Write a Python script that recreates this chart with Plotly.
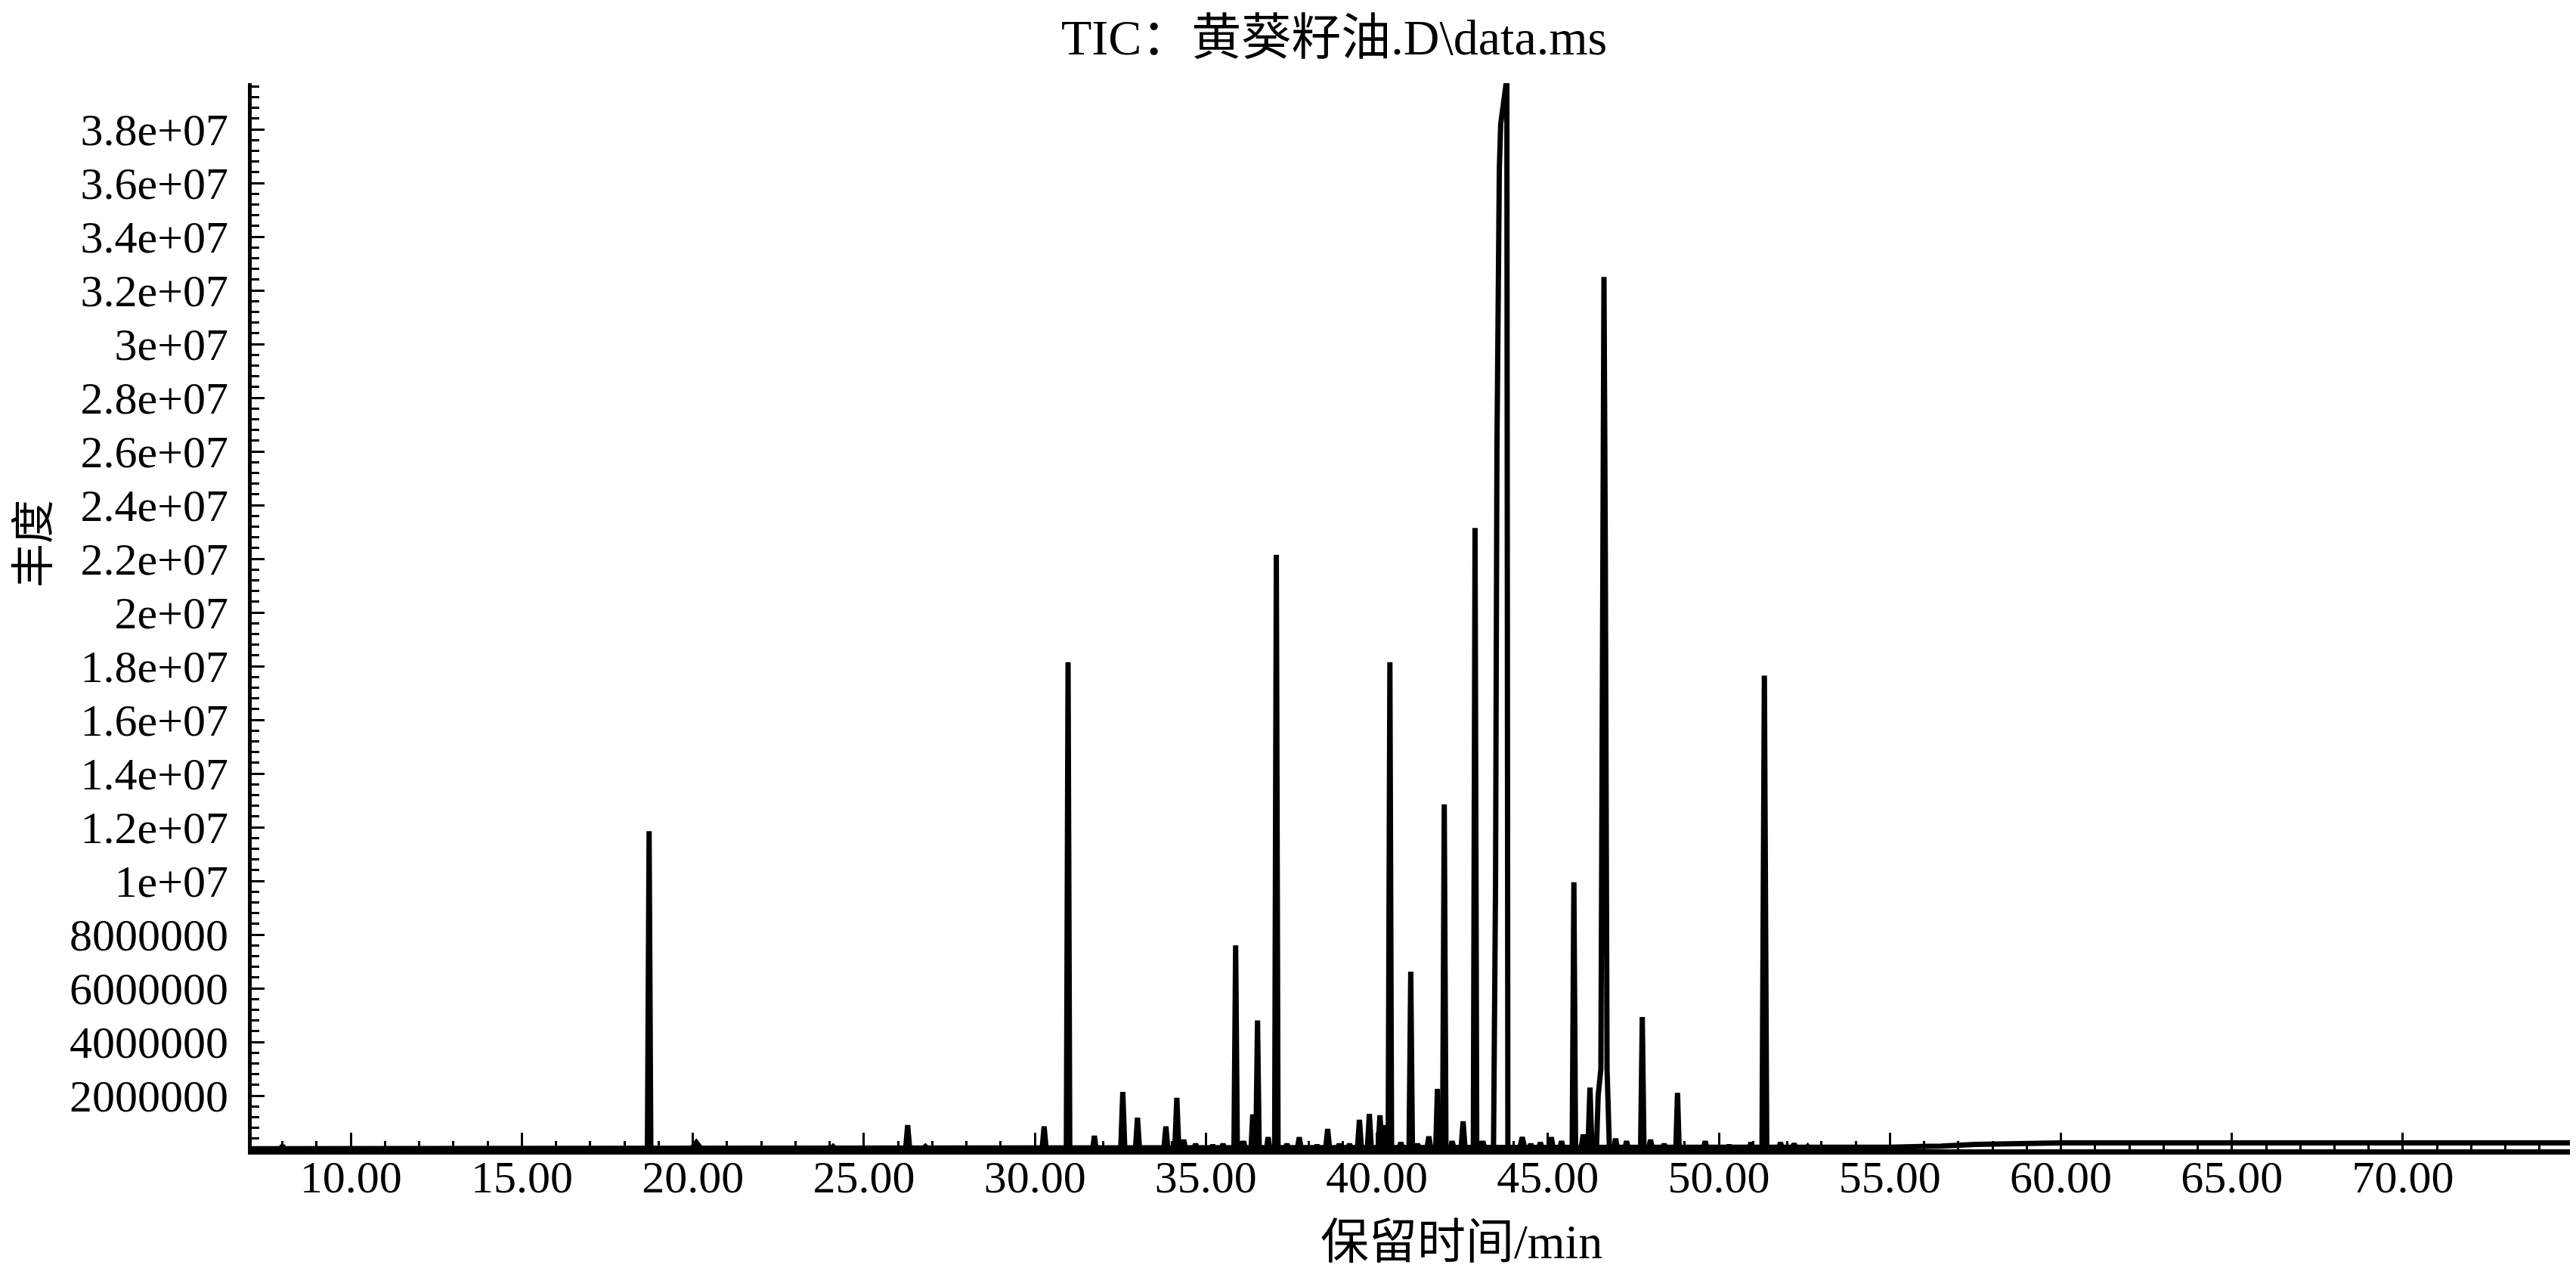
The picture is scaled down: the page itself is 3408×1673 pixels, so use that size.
import plotly.graph_objects as go

# ---------------- data ----------------
# isolated peaks: retention time (min), apex abundance, half base width (min)
peak_rt = [8.00, 18.72, 20.10, 24.10, 26.28, 26.80, 30.27, 30.97, 31.74, 32.57,
           33.00, 33.83, 34.15, 34.35, 34.70, 35.20, 35.50, 35.87, 36.10, 36.37,
           36.51, 36.82, 37.06, 37.37, 37.73, 38.25, 38.56, 38.90, 39.20, 39.49,
           39.78, 40.09, 40.23, 40.38, 40.70, 40.99, 41.19, 41.52, 41.77, 41.97,
           42.20, 42.52, 42.87, 43.10, 44.25, 44.50, 44.78, 45.10, 45.40, 45.76,
           46.03, 46.23, 46.98, 47.30, 47.76, 48.00, 48.40, 48.79, 49.60, 50.30,
           50.94, 51.33, 51.80, 52.20, 52.60]
peak_abund = [0.15e6, 11.85e6, 0.25e6, 0.10e6, 0.90e6, 0.10e6, 0.85e6, 18.15e6, 0.50e6, 2.14e6,
              1.18e6, 0.85e6, 1.92e6, 0.35e6, 0.20e6, 0.15e6, 0.20e6, 7.60e6, 0.30e6, 1.30e6,
              4.80e6, 0.45e6, 22.15e6, 0.20e6, 0.45e6, 0.15e6, 0.76e6, 0.20e6, 0.20e6, 1.10e6,
              1.32e6, 1.27e6, 0.90e6, 18.15e6, 0.25e6, 6.62e6, 0.20e6, 0.48e6, 2.25e6, 12.85e6,
              0.30e6, 1.04e6, 23.15e6, 0.30e6, 0.45e6, 0.20e6, 0.25e6, 0.45e6, 0.30e6, 9.95e6,
              0.55e6, 2.30e6, 0.40e6, 0.30e6, 4.93e6, 0.35e6, 0.20e6, 2.10e6, 0.30e6, 0.15e6,
              0.25e6, 17.65e6, 0.25e6, 0.20e6, 0.10e6]
peak_halfwidth = [0.04, 0.05, 0.15, 0.08, 0.06, 0.08, 0.06, 0.05, 0.05, 0.06,
                  0.06, 0.06, 0.06, 0.06, 0.06, 0.06, 0.06, 0.05, 0.06, 0.05,
                  0.05, 0.05, 0.05, 0.06, 0.06, 0.06, 0.06, 0.06, 0.06, 0.06,
                  0.06, 0.06, 0.05, 0.05, 0.06, 0.05, 0.05, 0.06, 0.05, 0.05,
                  0.06, 0.06, 0.05, 0.06, 0.08, 0.06, 0.06, 0.06, 0.06, 0.05,
                  0.06, 0.06, 0.06, 0.06, 0.05, 0.06, 0.06, 0.05, 0.06, 0.06,
                  0.06, 0.07, 0.06, 0.08, 0.06]

# overloaded main peak (fronting profile)
main_peak_rt = [43.41, 43.47, 43.51, 43.53, 43.58, 43.62, 43.72, 43.80, 43.83]
main_peak_abund = [0, 10.0e6, 26.0e6, 32.0e6, 36.5e6, 38.2e6, 39.4e6, 39.9e6, 0]

# second largest peak with shoulder
peak2_rt = [46.42, 46.47, 46.55, 46.60, 46.64, 46.68, 46.73, 46.80]
peak2_abund = [0, 2.0e6, 3.0e6, 22.0e6, 32.5e6, 22.0e6, 3.0e6, 0]

# baseline drift
base_rt = [7.10, 52.80, 55.00, 56.50, 57.50, 60.00, 75.20]
base_abund = [0.02e6, 0.05e6, 0.08e6, 0.12e6, 0.18e6, 0.24e6, 0.24e6]

# axis ticks
y_tickvals = [2e6, 4e6, 6e6, 8e6, 1e7, 1.2e7, 1.4e7, 1.6e7, 1.8e7, 2e7,
              2.2e7, 2.4e7, 2.6e7, 2.8e7, 3e7, 3.2e7, 3.4e7, 3.6e7, 3.8e7]
y_ticktext = ["2000000", "4000000", "6000000", "8000000", "1e+07", "1.2e+07",
              "1.4e+07", "1.6e+07", "1.8e+07", "2e+07", "2.2e+07", "2.4e+07",
              "2.6e+07", "2.8e+07", "3e+07", "3.2e+07", "3.4e+07", "3.6e+07", "3.8e+07"]
x_tickvals = [10, 15, 20, 25, 30, 35, 40, 45, 50, 55, 60, 65, 70]
x_ticktext = ["10.00", "15.00", "20.00", "25.00", "30.00", "35.00", "40.00",
              "45.00", "50.00", "55.00", "60.00", "65.00", "70.00"]

title_text = "TIC：黄葵籽油.D\\data.ms"
x_title = "保留时间/min"
y_title = "丰度"

# ---------------- build traces ----------------
px, py = [], []
for rt, h, hw in zip(peak_rt, peak_abund, peak_halfwidth):
    px += [rt - hw, rt, rt + hw, None]
    py += [0, h, 0, None]
px += main_peak_rt + [None] + peak2_rt
py += main_peak_abund + [None] + peak2_abund

LINE = dict(color="black", width=7)
fig = go.Figure()
fig.add_trace(go.Scatter(x=base_rt, y=base_abund, mode="lines", line=LINE,
                         hoverinfo="skip", showlegend=False))
fig.add_trace(go.Scatter(x=px, y=py, mode="lines", line=LINE,
                         connectgaps=False, showlegend=False))

FONT = "Liberation Serif, Times New Roman, Noto Sans CJK SC, serif"
W, H = 3408, 1673
L, R, T, B = 325, 4, 102, 161

fig.update_layout(
    width=W, height=H,
    margin=dict(l=L, r=R, t=T, b=B, pad=0),
    paper_bgcolor="white", plot_bgcolor="white",
    font=dict(family=FONT, color="black", size=60),
    showlegend=False,
)
fig.add_annotation(text=title_text, xref="paper", yref="paper",
                   x=(1757 - L) / (W - L - R), y=(H - B - 42) / (H - T - B),
                   xanchor="center", yanchor="middle", showarrow=False,
                   font=dict(family=FONT, size=66, color="black"))
fig.update_xaxes(
    range=[7.1, 75.15], showgrid=False, zeroline=False,
    showline=True, linecolor="black", linewidth=7,
    tickmode="array", tickvals=x_tickvals, ticktext=x_ticktext,
    ticks="inside", ticklen=22, tickwidth=3, tickcolor="black",
    tickfont=dict(family=FONT, size=60, color="black"),
    minor=dict(ticks="inside", ticklen=11, tickwidth=3, tickcolor="black",
               tickmode="linear", tick0=0, dtick=1),
    ticklabelstandoff=-22,
)
fig.update_yaxes(
    range=[0, 39.72e6], showgrid=False, zeroline=False,
    showline=True, linecolor="black", linewidth=5,
    tickmode="array", tickvals=y_tickvals, ticktext=y_ticktext,
    ticks="inside", ticklen=17, tickwidth=3, tickcolor="black",
    tickfont=dict(family=FONT, size=60, color="black"),
    minor=dict(ticks="inside", ticklen=10, tickwidth=3, tickcolor="black",
               tickmode="linear", tick0=0, dtick=4e5),
    ticklabelstandoff=14,
)

fig.add_annotation(text=x_title, xref="paper", yref="paper",
                   x=(1925 - L) / (W - L - R), y=-(1634 - (H - B)) / (H - T - B),
                   xanchor="center", yanchor="middle", showarrow=False,
                   font=dict(family=FONT, size=64, color="black"))
fig.add_annotation(text=y_title, xref="paper", yref="paper",
                   x=-(L - 36) / (W - L - R), y=(H - B - 711) / (H - T - B),
                   xanchor="center", yanchor="middle", showarrow=False,
                   textangle=-90,
                   font=dict(family=FONT, size=58, color="black"))

fig.write_html("out.html")
